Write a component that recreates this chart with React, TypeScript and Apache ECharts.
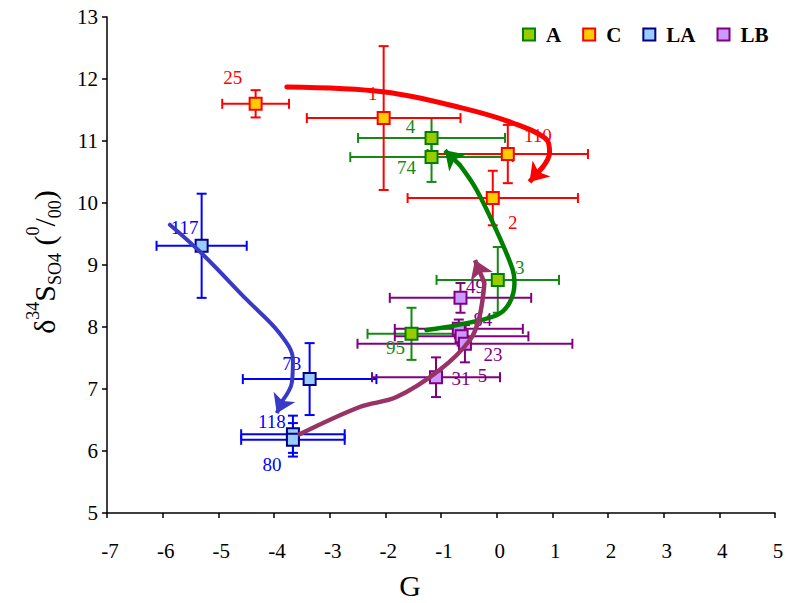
import React, { useEffect, useRef } from 'react';
import * as echarts from 'echarts';

const FONT = 'Liberation Serif, Times New Roman, serif';

// ---- data ----
const xTicks = [-7, 5];
const yTicks = [5, 13];

const aLabels = ['4', '74', '3', '95'];
const aX = [-1.17, -1.17, 0.02, -1.53];
const aY = [11.05, 10.74, 8.76, 7.89];
const aXErr = [1.32, 1.46, 1.1, 0.79];
const aYErr = [0.32, 0.4, 0.53, 0.42];

const cLabels = ['25', '1', '110', '2'];
const cX = [-4.33, -2.03, 0.2, -0.07];
const cY = [11.6, 11.37, 10.79, 10.08];
const cXErr = [0.6, 1.38, 1.44, 1.53];
const cYErr = [0.22, 1.16, 0.47, 0.44];

const laLabels = ['117', '73', '118', '80'];
const laX = [-5.3, -3.36, -3.66, -3.66];
const laY = [9.31, 7.16, 6.27, 6.18];
const laXErr = [0.81, 1.2, 0.93, 0.93];
const laYErr = [0.84, 0.58, 0.3, 0.27];

const lbLabels = ['49', '84', '5', '23', '31'];
const lbX = [-0.65, -0.68, -0.63, -0.57, -1.09];
const lbY = [8.47, 7.97, 7.85, 7.73, 7.19];
const lbXErr = [1.27, 1.15, 1.2, 1.93, 1.15];
const lbYErr = [0.24, 0.15, 0.15, 0.3, 0.32];

// arrow paths (data coordinates) and their tips
const redArrow = [[-3.77, 11.87], [-2.01, 11.79], [-0.61, 11.53], [0.29, 11.29], [0.9, 11.02], [0.95, 10.81], [0.83, 10.58]];
const redTip = [0.59, 10.34];
const greenArrow = [[-1.26, 7.95], [-0.72, 8.03], [0.0, 8.19], [0.23, 8.39], [0.32, 8.71], [0.29, 8.92], [0.05, 9.45], [-0.36, 10.21], [-0.66, 10.61]];
const greenTip = [-0.93, 10.85];
const purpleArrow = [[-3.54, 6.27], [-2.46, 6.71], [-1.8, 6.87], [-1.02, 7.31], [-0.48, 7.79], [-0.31, 8.16], [-0.22, 8.71]];
const purpleTip = [-0.39, 9.08];
const blueArrow = [[-5.87, 9.65], [-5.3, 9.19], [-4.49, 8.44], [-3.9, 7.9], [-3.66, 7.47], [-3.68, 7.1], [-3.84, 6.82]];
const blueTip = [-3.95, 6.61];

// label offsets in pixels (style)
const aOff = [[-21, -11], [-25, 10], [22, -12], [-16, 14]];
const cOff = [[-23, -26], [-11, -25], [30, -19], [20, 24]];
const laOff = [[-17, -18], [-18, -16], [-21, -13], [-21, 25]];
const lbOff = [[15, -11], [24, -9], [21, 39], [28, 11], [25, 1]];

type Group = {
  name: string; labels: string[]; xs: number[]; ys: number[]; xe: number[]; ye: number[];
  off: number[][]; fill: string; border: string; bar: string; text: string;
};

const groups: Group[] = [
  { name: 'A', labels: aLabels, xs: aX, ys: aY, xe: aXErr, ye: aYErr, off: aOff, fill: '#99cc00', border: '#008000', bar: '#138a13', text: '#138a13' },
  { name: 'C', labels: cLabels, xs: cX, ys: cY, xe: cXErr, ye: cYErr, off: cOff, fill: '#ffcc00', border: '#ff0000', bar: '#ff0000', text: '#ff0000' },
  { name: 'LA', labels: laLabels, xs: laX, ys: laY, xe: laXErr, ye: laYErr, off: laOff, fill: '#99ccff', border: '#000080', bar: '#0000ff', text: '#0000ff' },
  { name: 'LB', labels: lbLabels, xs: lbX, ys: lbY, xe: lbXErr, ye: lbYErr, off: lbOff, fill: '#cc99ff', border: '#800080', bar: '#800080', text: '#800080' },
];

const arrows = [
  { name: 'C-arrow', pts: redArrow, tip: redTip, color: '#ff0000', width: 5 },
  { name: 'A-arrow', pts: greenArrow, tip: greenTip, color: '#008000', width: 4.5 },
  { name: 'LB-arrow', pts: purpleArrow, tip: purpleTip, color: '#993366', width: 4.5 },
  { name: 'LA-arrow', pts: blueArrow, tip: blueTip, color: '#3939c8', width: 4 },
];

function errorSeries(g: Group) {
  return {
    type: 'custom',
    name: g.name + '-err',
    z: 2,
    silent: true,
    data: g.xs.map((x, i) => [x, g.ys[i], g.xe[i], g.ye[i]]),
    encode: { x: 0, y: 1 },
    renderItem: (params: any, api: any) => {
      const x = api.value(0), y = api.value(1), ex = api.value(2), ey = api.value(3);
      const l = api.coord([x - ex, y]);
      const r = api.coord([x + ex, y]);
      const t = api.coord([x, y + ey]);
      const b = api.coord([x, y - ey]);
      const cap = 5;
      const st = { stroke: g.bar, lineWidth: 2 };
      const ln = (x1: number, y1: number, x2: number, y2: number) => ({ type: 'line', shape: { x1, y1, x2, y2 }, style: st });
      return {
        type: 'group',
        children: [
          ln(l[0], l[1], r[0], r[1]),
          ln(t[0], t[1], b[0], b[1]),
          ln(l[0], l[1] - cap, l[0], l[1] + cap),
          ln(r[0], r[1] - cap, r[0], r[1] + cap),
          ln(t[0] - cap, t[1], t[0] + cap, t[1]),
          ln(b[0] - cap, b[1], b[0] + cap, b[1]),
        ],
      };
    },
  };
}

function pointSeries(g: Group) {
  return {
    type: 'scatter',
    name: g.name,
    z: 3,
    symbol: 'rect',
    symbolSize: 12,
    itemStyle: { color: g.fill, borderColor: g.border, borderWidth: 2, opacity: 1 },
    data: g.xs.map((x, i) => ({
      value: [x, g.ys[i]],
      label: { offset: g.off[i] },
    })),
    label: {
      show: true,
      position: 'inside',
      formatter: (p: any) => g.labels[p.dataIndex],
      color: g.text,
      fontFamily: FONT,
      fontSize: 19,
    },
  };
}

function arrowSeries(a: typeof arrows[number]) {
  const last = a.pts[a.pts.length - 1];
  return [
    {
      type: 'line',
      name: a.name,
      z: 6,
      silent: true,
      smooth: 0.35,
      symbol: 'none',
      data: a.pts,
      lineStyle: { color: a.color, width: a.width, cap: 'round' },
    },
    {
      type: 'lines',
      name: a.name + '-head',
      coordinateSystem: 'cartesian2d',
      z: 6,
      silent: true,
      symbol: ['none', 'arrow'],
      symbolSize: 18,
      lineStyle: { color: a.color, width: a.width, opacity: 1 },
      data: [{ coords: [last, a.tip] }],
    },
  ];
}

const option: any = {
  animation: false,
  backgroundColor: '#ffffff',
  grid: { left: 107, right: 12, top: 17, bottom: 90, containLabel: false },
  legend: {
    data: groups.map((g) => g.name),
    left: 522,
    top: 24,
    padding: 0,
    icon: 'rect',
    itemWidth: 12,
    itemHeight: 12,
    itemGap: 21,
    textStyle: { fontFamily: FONT, fontSize: 21, fontWeight: 'bold', color: '#000', padding: [0, 0, 0, 6] },
  },
  xAxis: {
    type: 'value',
    min: xTicks[0],
    max: xTicks[1],
    interval: 1,
    splitLine: { show: false },
    axisLine: { onZero: false, lineStyle: { color: '#000', width: 1.5 } },
    axisTick: { show: true, inside: false, length: 5, lineStyle: { color: '#000', width: 1.5 } },
    axisLabel: { color: '#000', fontFamily: FONT, fontSize: 21, margin: 27, padding: [0, 0, 0, 6] },
  },
  yAxis: {
    type: 'value',
    min: yTicks[0],
    max: yTicks[1],
    interval: 1,
    splitLine: { show: false },
    axisLine: { onZero: false, lineStyle: { color: '#000', width: 1.5 } },
    axisTick: { show: true, inside: false, length: 5, lineStyle: { color: '#000', width: 1.5 } },
    axisLabel: { color: '#000', fontFamily: FONT, fontSize: 21, margin: 9 },
  },
  graphic: [
    {
      type: 'text',
      x: 410,
      y: 585,
      style: { text: 'G', font: '30px ' + FONT, fill: '#000', align: 'center', verticalAlign: 'middle' },
    },
    {
      type: 'text',
      x: 44,
      y: 262,
      rotation: Math.PI / 2,
      style: {
        text: '{n|δ}{sup|34}{n|S}{sub|SO4}{n| (}{sup|0}{n|/}{sub|00}{n|)}',
        align: 'center',
        verticalAlign: 'middle',
        fill: '#000',
        rich: {
          n: { fontFamily: FONT, fontSize: 30, lineHeight: 40, verticalAlign: 'middle', fill: '#000' },
          sup: { fontFamily: FONT, fontSize: 18, lineHeight: 18, verticalAlign: 'top', fill: '#000' },
          sub: { fontFamily: FONT, fontSize: 18, lineHeight: 18, verticalAlign: 'bottom', fill: '#000' },
        },
      },
    },
  ],
  series: [
    ...groups.map(errorSeries),
    ...groups.map(pointSeries),
    ...arrows.flatMap(arrowSeries),
  ],
};

export default function App() {
  const ref = useRef<HTMLDivElement>(null);
  useEffect(() => {
    const chart = echarts.init(ref.current!, null, { renderer: 'svg' });
    chart.setOption(option);
    return () => chart.dispose();
  }, []);
  return (
    <div
      ref={ref}
      style={{ position: 'fixed', left: 0, top: 0, width: 787, height: 603, background: '#fff' }}
    />
  );
}
